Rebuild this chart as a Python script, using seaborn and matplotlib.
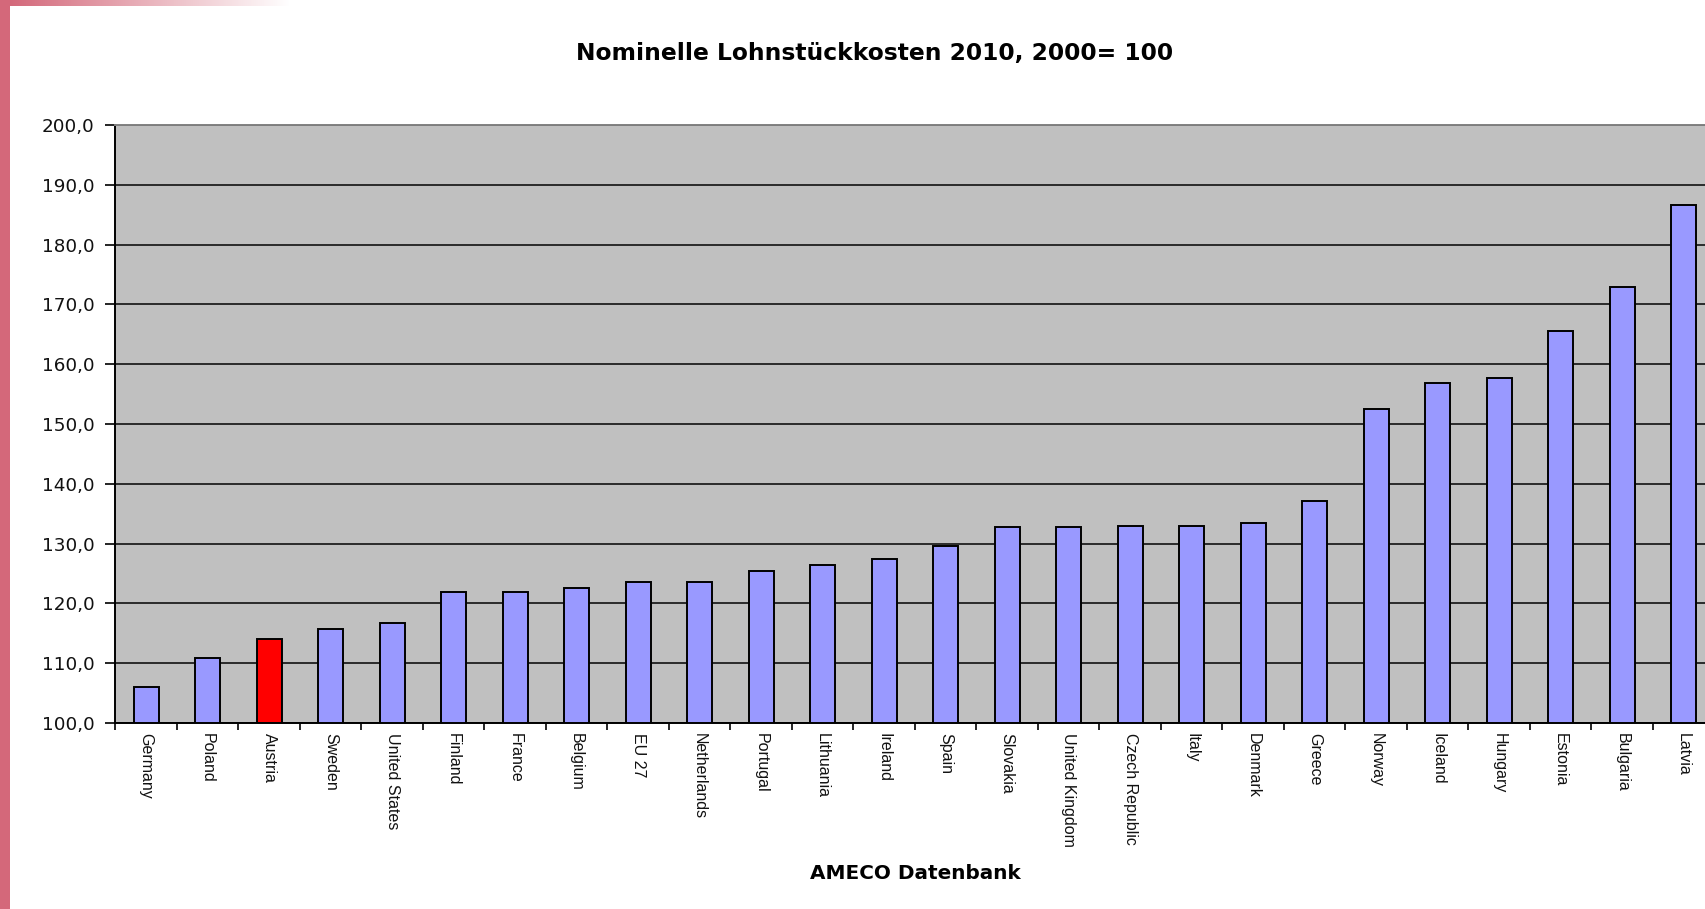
import numpy as np
import matplotlib
matplotlib.use("Agg")
import matplotlib.pyplot as plt
from matplotlib.patches import Rectangle
from matplotlib.ticker import FixedLocator, FuncFormatter
import seaborn as sns

# Nominal unit labour costs 2010 (index 2000 = 100), AMECO
countries = [
    "Germany", "Poland", "Austria", "Sweden", "United States", "Finland",
    "France", "Belgium", "EU 27", "Netherlands", "Portugal", "Lithuania",
    "Ireland", "Spain", "Slovakia", "United Kingdom", "Czech Republic",
    "Italy", "Denmark", "Greece", "Norway", "Iceland", "Hungary",
    "Estonia", "Bulgaria", "Latvia",
]
values = [
    106.0, 110.9, 114.0, 115.7, 116.7, 121.9,
    121.9, 122.6, 123.6, 123.6, 125.4, 126.4,
    127.4, 129.6, 132.7, 132.7, 132.9,
    132.9, 133.5, 137.2, 152.5, 156.9, 157.7,
    165.6, 172.9, 186.7,
]
highlight = "Austria"
y_ticks = [100, 110, 120, 130, 140, 150, 160, 170, 180, 190, 200]

title = "Nominelle Lohnstückkosten 2010, 2000= 100"
source = "AMECO Datenbank"

bar_color = "#9999FF"
highlight_color = "#FF0000"
palette = {c: (highlight_color if c == highlight else bar_color) for c in countries}

sns.set_theme(style="white")
plt.rcParams["font.family"] = ["DejaVu Sans"]

W, H = 1706, 909
fig = plt.figure(figsize=(W / 100, H / 100), dpi=100)
fig.patch.set_facecolor("white")

# slide decoration: left stripe and fading top band
fig.add_artist(Rectangle((0, 0), 10 / W, 1, transform=fig.transFigure,
                         facecolor="#D4687A", edgecolor="none", zorder=0))
band = fig.add_axes([10 / W, 1 - 6 / H, 280 / W, 6 / H])
grad = np.linspace(0, 1, 256)[None, :]
start = np.array([0.83, 0.41, 0.48])
rgb = start[None, None, :] * (1 - grad[..., None]) + np.ones(3)[None, None, :] * grad[..., None]
band.imshow(rgb, aspect="auto", extent=(0, 1, 0, 1))
band.set_axis_off()

left, right, top, bottom = 115.5, 1714.5, 125, 723
ax = fig.add_axes([left / W, 1 - bottom / H, (right - left) / W, (bottom - top) / H])
ax.set_facecolor("#C0C0C0")

sns.barplot(x=countries, y=values, hue=countries, palette=palette, legend=False,
            width=0.4, saturation=1, edgecolor="black", linewidth=1.4, ax=ax)

ax.set_xlim(-0.5, len(countries) - 0.5)
ax.set_ylim(y_ticks[0], y_ticks[-1])
ax.set_axisbelow(True)

# horizontal gridlines
ax.yaxis.set_major_locator(FixedLocator(y_ticks))
ax.yaxis.set_major_formatter(FuncFormatter(lambda v, p: f"{v:.1f}".replace(".", ",")))
ax.grid(axis="y", color="#111111", linewidth=1.2)
ax.grid(axis="x", visible=False)
ax.tick_params(axis="y", which="major", direction="out", length=7, width=1.2,
               color="black", pad=8, labelsize=13.2, labelcolor="#111111", left=True)

# category labels centered, tick marks between categories
ax.set_xticks(range(len(countries)))
ax.set_xticklabels(countries, rotation=270, ha="center", va="top",
                   family=["Liberation Sans", "DejaVu Sans"], fontsize=11.5, color="#111111")
ax.tick_params(axis="x", which="major", length=0, pad=7)
ax.xaxis.set_minor_locator(FixedLocator(np.arange(-0.5, len(countries), 1.0)))
ax.tick_params(axis="x", which="minor", direction="out", length=5, width=1.2,
               color="black", bottom=True)

ax.set_xlabel("")
ax.set_ylabel("")

for side in ["left", "bottom"]:
    ax.spines[side].set_color("black")
    ax.spines[side].set_linewidth(1.4)
ax.spines["top"].set_color("#808080")
ax.spines["top"].set_linewidth(1.4)
ax.spines["right"].set_visible(False)

fig.text(875 / W, 1 - 60 / H, title, ha="center", va="baseline",
         fontsize=16.8, fontweight="bold", color="black")
fig.text(915 / W, 1 - 879 / H, source, ha="center", va="baseline",
         fontsize=14.4, fontweight="bold", color="black")

fig.savefig("out.png", dpi=100, facecolor="white")
